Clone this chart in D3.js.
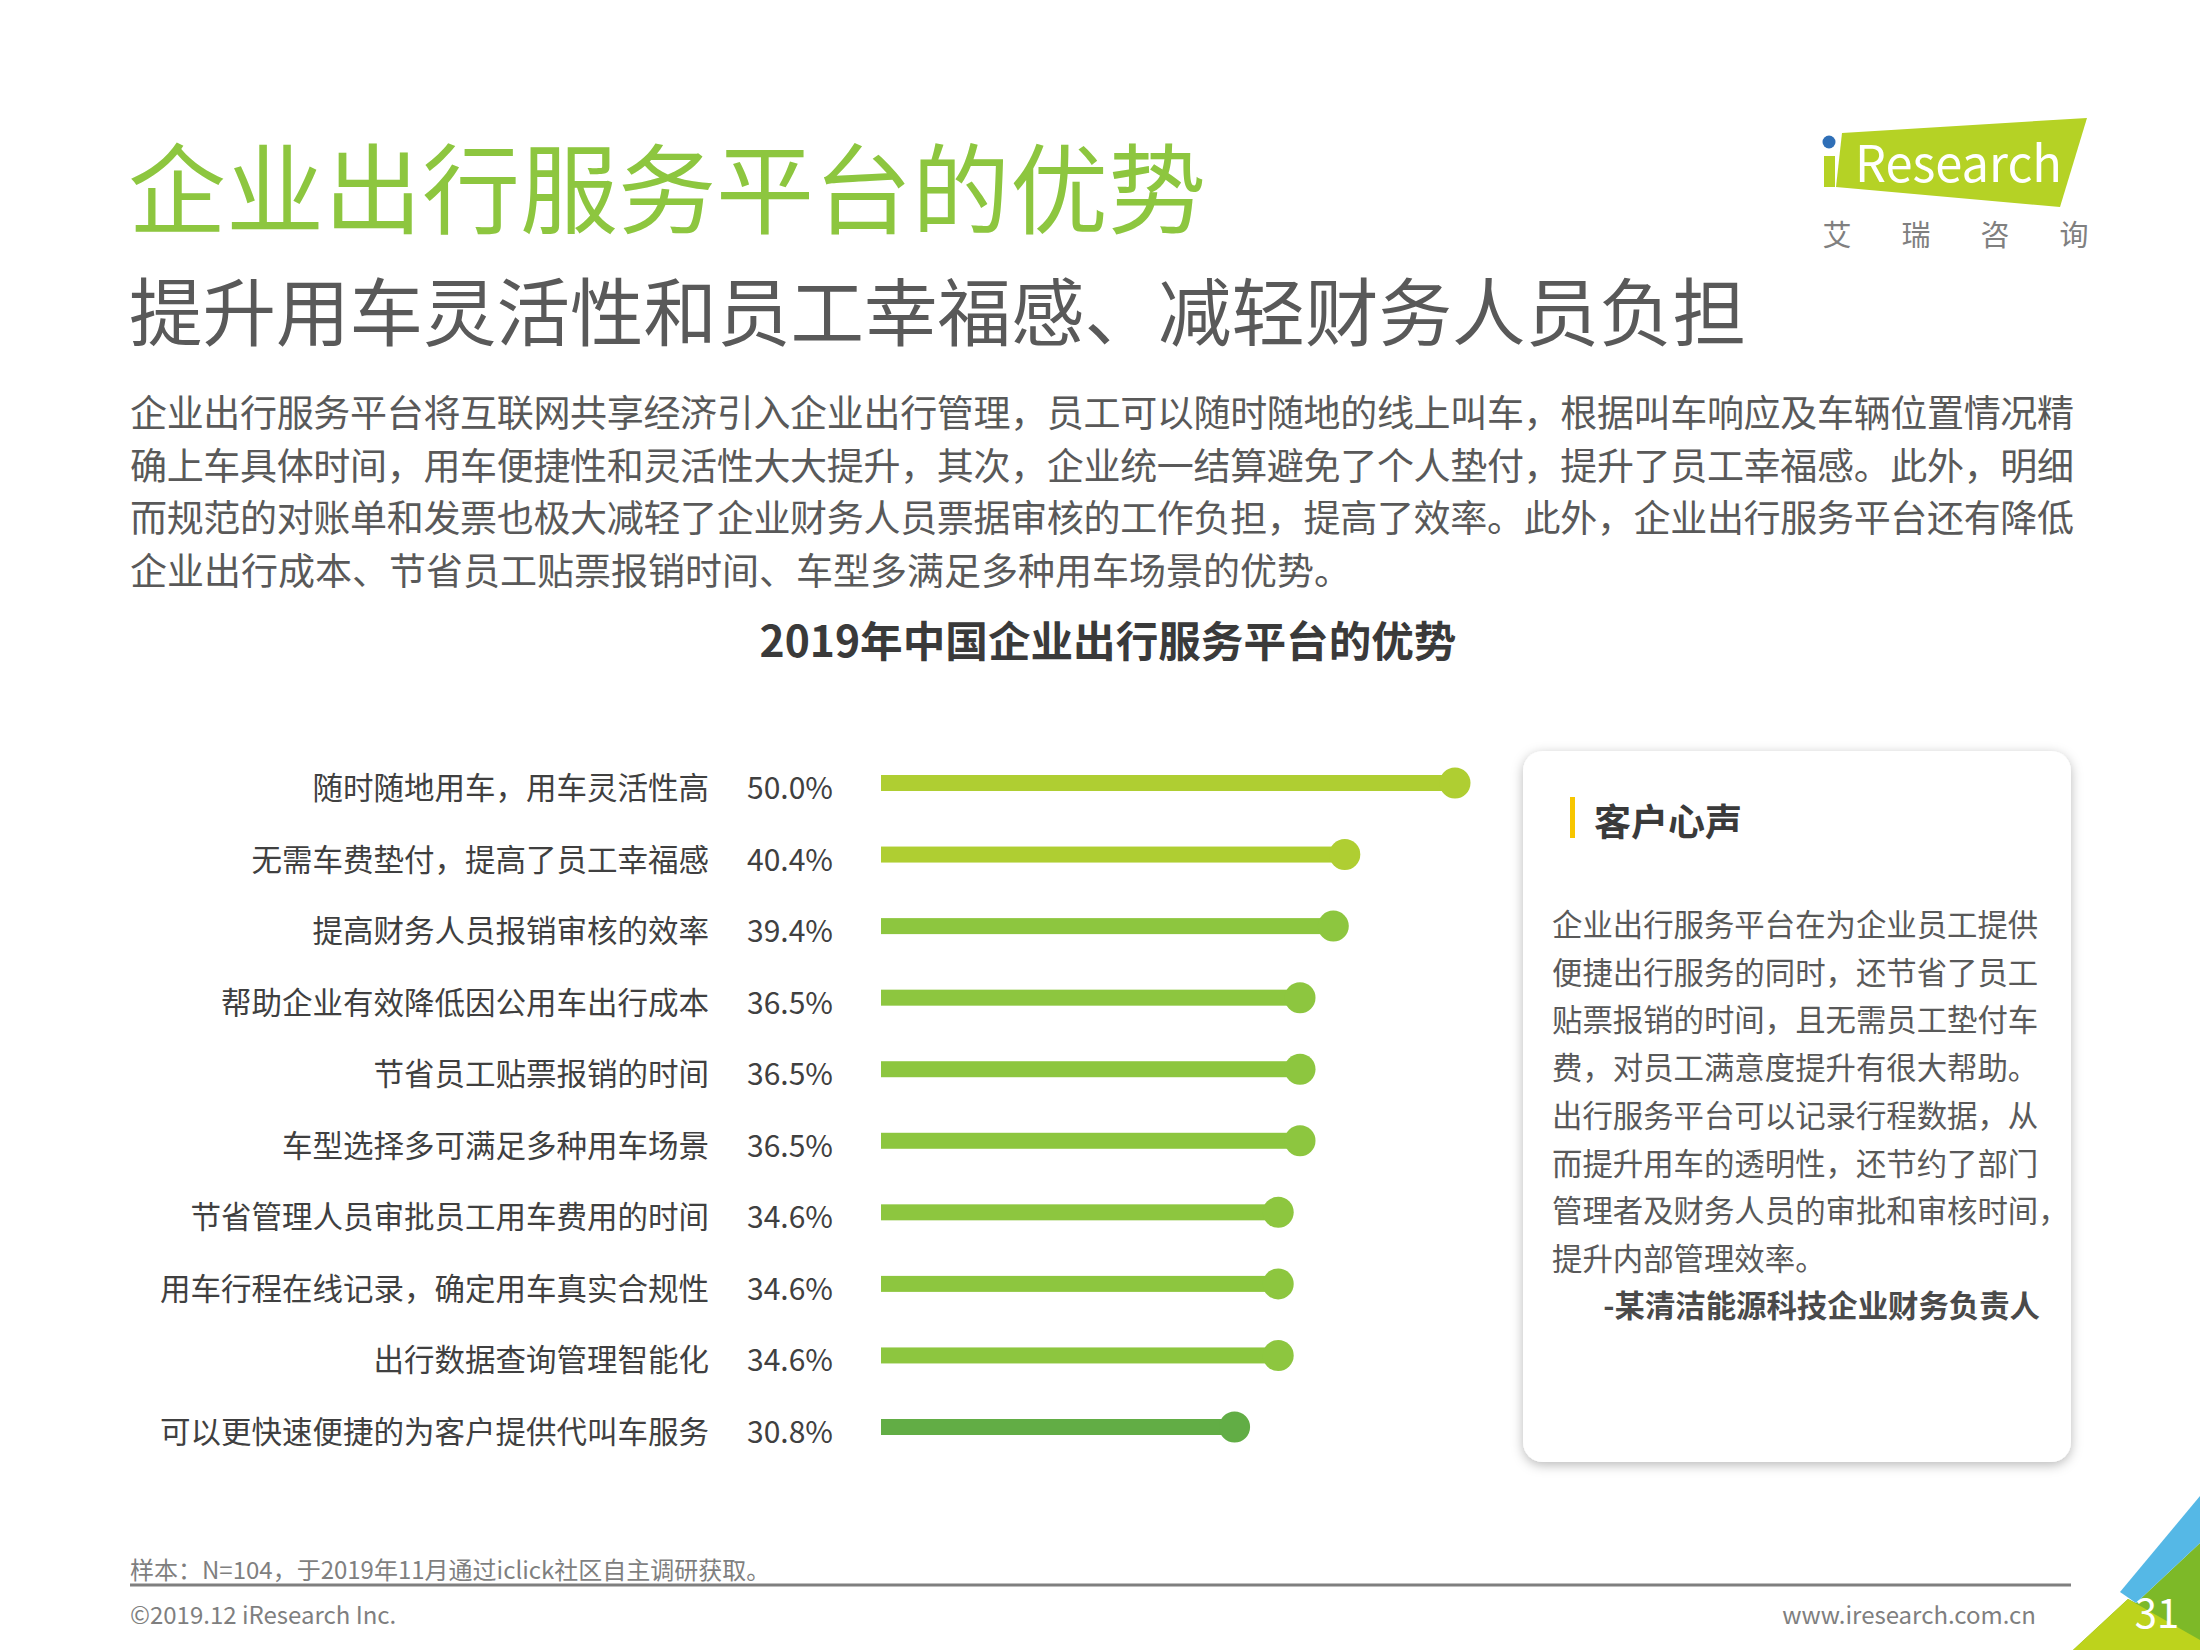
<!DOCTYPE html>
<html>
<head>
<meta charset="utf-8">
<script src="https://cdn.jsdelivr.net/npm/d3@7"></script>
<style>
  html, body { margin: 0; padding: 0; background: #ffffff; }
  svg { display: block; }
  text { font-family: "Noto Sans CJK SC", "Noto Sans", sans-serif; }
</style>
</head>
<body>
<svg id="chart" width="2200" height="1650"></svg>
<script>
// ---------------- data ----------------
const categories = [
  "随时随地用车，用车灵活性高",
  "无需车费垫付，提高了员工幸福感",
  "提高财务人员报销审核的效率",
  "帮助企业有效降低因公用车出行成本",
  "节省员工贴票报销的时间",
  "车型选择多可满足多种用车场景",
  "节省管理人员审批员工用车费用的时间",
  "用车行程在线记录，确定用车真实合规性",
  "出行数据查询管理智能化",
  "可以更快速便捷的为客户提供代叫车服务"
];
const values = [50.0, 40.4, 39.4, 36.5, 36.5, 36.5, 34.6, 34.6, 34.6, 30.8];
const barColors = ["#AFCE32", "#AFCE32", "#8DC63F", "#8DC63F", "#8DC63F", "#8DC63F", "#8DC63F", "#8DC63F", "#8DC63F", "#62AD45"];

const pageTitle = "企业出行服务平台的优势";
const pageSubtitle = "提升用车灵活性和员工幸福感、减轻财务人员负担";
const introLines = [
  "企业出行服务平台将互联网共享经济引入企业出行管理，员工可以随时随地的线上叫车，根据叫车响应及车辆位置情况精",
  "确上车具体时间，用车便捷性和灵活性大大提升，其次，企业统一结算避免了个人垫付，提升了员工幸福感。此外，明细",
  "而规范的对账单和发票也极大减轻了企业财务人员票据审核的工作负担，提高了效率。此外，企业出行服务平台还有降低",
  "企业出行成本、节省员工贴票报销时间、车型多满足多种用车场景的优势。"
];
const chartTitle = "2019年中国企业出行服务平台的优势";
const boxTitle = "客户心声";
const boxLines = [
  "企业出行服务平台在为企业员工提供",
  "便捷出行服务的同时，还节省了员工",
  "贴票报销的时间，且无需员工垫付车",
  "费，对员工满意度提升有很大帮助。",
  "出行服务平台可以记录行程数据，从",
  "而提升用车的透明性，还节约了部门",
  "管理者及财务人员的审批和审核时间，",
  "提升内部管理效率。"
];
const boxSign = "-某清洁能源科技企业财务负责人";
const sourceNote = "样本：N=104，于2019年11月通过iclick社区自主调研获取。";
const copyright = "©2019.12 iResearch Inc.";
const website = "www.iresearch.com.cn";
const pageNumber = "31";
const logoCn = ["艾", "瑞", "咨", "询"];

// ---------------- drawing ----------------
const svg = d3.select("#chart");
const defs = svg.append("defs");
const f = defs.append("filter").attr("id", "shadow")
  .attr("x", "-10%").attr("y", "-10%").attr("width", "120%").attr("height", "120%");
f.append("feDropShadow").attr("dx", 0).attr("dy", 3).attr("stdDeviation", 6)
  .attr("flood-color", "#000").attr("flood-opacity", 0.28);

// Titles
svg.append("text").attr("x", 128).attr("y", 183)
  .attr("dominant-baseline", "central")
  .attr("font-size", 98).attr("fill", "#8DC63F").text(pageTitle);
svg.append("text").attr("x", 129).attr("y", 308)
  .attr("dominant-baseline", "central")
  .attr("font-size", 73.5).attr("fill", "#595959").text(pageSubtitle);

// Intro paragraph
svg.append("g").selectAll("text").data(introLines).join("text")
  .attr("x", 130)
  .attr("y", (d, i) => 411 + i * 52.6)
  .attr("dominant-baseline", "central")
  .attr("font-size", 37).attr("fill", "#595959")
  .each(function(d, i) {
    if (i < introLines.length - 1) {
      d3.select(this).attr("textLength", 1944).attr("lengthAdjust", "spacing");
    }
  })
  .text(d => d);

// Chart title
svg.append("text").attr("x", 1108).attr("y", 638)
  .attr("text-anchor", "middle").attr("dominant-baseline", "central")
  .attr("font-size", 42.6).attr("font-weight", "bold").attr("fill", "#3a3a3a")
  .text(chartTitle);

// Scales
const x = d3.scaleLinear().domain([0, 50]).range([881, 1455]);
const y = d3.scalePoint().domain(categories).range([783, 1427]);

const rows = svg.append("g").selectAll("g").data(categories).join("g");
rows.append("rect")
  .attr("x", x(0))
  .attr("y", d => y(d) - 8)
  .attr("width", (d, i) => x(values[i]) - x(0))
  .attr("height", 16)
  .attr("fill", (d, i) => barColors[i]);
rows.append("circle")
  .attr("cx", (d, i) => x(values[i]))
  .attr("cy", d => y(d))
  .attr("r", 15.5)
  .attr("fill", (d, i) => barColors[i]);
rows.append("text")
  .attr("x", 709).attr("y", d => y(d) + 3)
  .attr("text-anchor", "end").attr("dominant-baseline", "central")
  .attr("font-size", 30.5).attr("fill", "#404040")
  .text(d => d);
const fmt = d3.format(".1f");
rows.append("text")
  .attr("x", 747).attr("y", d => y(d) + 3)
  .attr("dominant-baseline", "central")
  .attr("font-size", 30).attr("fill", "#404040")
  .text((d, i) => fmt(values[i]) + "%");

// Customer voice box
svg.append("rect").attr("x", 1523).attr("y", 751).attr("width", 548).attr("height", 711)
  .attr("rx", 20).attr("ry", 20).attr("fill", "#ffffff").attr("filter", "url(#shadow)");
svg.append("rect").attr("x", 1570).attr("y", 797).attr("width", 5).attr("height", 41).attr("fill", "#F7C600");
svg.append("text").attr("x", 1594).attr("y", 820)
  .attr("dominant-baseline", "central")
  .attr("font-size", 37).attr("font-weight", "bold").attr("fill", "#3a3a3a").text(boxTitle);
svg.append("g").selectAll("text").data(boxLines).join("text")
  .attr("x", 1552).attr("y", (d, i) => 923 + i * 47.7)
  .attr("dominant-baseline", "central")
  .attr("font-size", 30.4).attr("fill", "#595959")
  .text(d => d);
svg.append("text").attr("x", 2040).attr("y", 1304)
  .attr("text-anchor", "end").attr("dominant-baseline", "central")
  .attr("font-size", 30.4).attr("font-weight", "bold").attr("fill", "#4a4a4a").text(boxSign);

// Footer
svg.append("text").attr("x", 130).attr("y", 1568)
  .attr("dominant-baseline", "central")
  .attr("font-size", 24).attr("fill", "#7f7f7f").text(sourceNote);
svg.append("line").attr("x1", 130).attr("x2", 2071).attr("y1", 1585).attr("y2", 1585)
  .attr("stroke", "#7f7f7f").attr("stroke-width", 3);
svg.append("text").attr("x", 130).attr("y", 1613)
  .attr("dominant-baseline", "central")
  .attr("font-family", "Liberation Sans, Arial, sans-serif")
  .attr("font-size", 24).attr("fill", "#7f7f7f").text(copyright);
svg.append("text").attr("x", 2036).attr("y", 1613)
  .attr("text-anchor", "end").attr("dominant-baseline", "central")
  .attr("font-family", "Liberation Sans, Arial, sans-serif")
  .attr("font-size", 24).attr("fill", "#7f7f7f").text(website);

// Corner decoration
const corner = svg.append("g");
corner.append("polygon").attr("points", "2073,1650 2128,1599 2136,1603 2200,1543 2200,1650").attr("fill", "#7DB928");
corner.append("polygon").attr("points", "2073,1650 2128,1599 2200,1640 2200,1650").attr("fill", "#BDD31C");
corner.append("polygon").attr("points", "2120,1592 2200,1496 2200,1543 2136,1603").attr("fill", "#55B8E6");
svg.append("text").attr("x", 2157).attr("y", 1611)
  .attr("text-anchor", "middle").attr("dominant-baseline", "central")
  .attr("font-family", "Open Sans, sans-serif")
  .attr("font-size", 40).attr("fill", "#ffffff").text(pageNumber);

// Logo
const logo = svg.append("g");
logo.append("polygon").attr("points", "1842,133 2087,118 2060,207 1836,187").attr("fill", "#B5D225");
logo.append("rect").attr("x", 1824).attr("y", 156).attr("width", 11).attr("height", 31).attr("fill", "#B5D225");
logo.append("circle").attr("cx", 1829).attr("cy", 142).attr("r", 6.5).attr("fill", "#2F6FB7");
logo.append("text").attr("x", 1855).attr("y", 182)
  .attr("font-family", "Open Sans, sans-serif")
  .attr("font-size", 50).attr("fill", "#ffffff").attr("textLength", 207).attr("lengthAdjust", "spacingAndGlyphs")
  .text("Research");
logo.selectAll("text.cn").data(logoCn).join("text").attr("class", "cn")
  .attr("x", (d, i) => 1837 + i * 79).attr("y", 233)
  .attr("text-anchor", "middle").attr("dominant-baseline", "central")
  .attr("font-size", 29).attr("fill", "#808080").text(d => d);
</script>
</body>
</html>
